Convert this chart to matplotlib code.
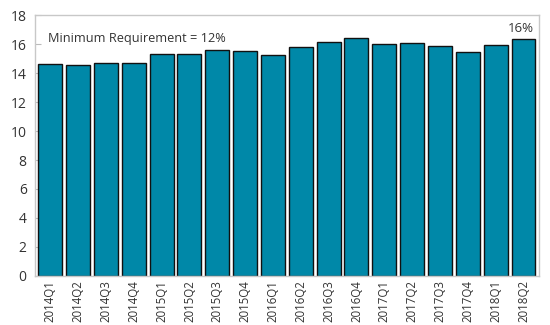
import matplotlib
matplotlib.use("Agg")
import matplotlib.pyplot as plt

quarters = ["2014Q1", "2014Q2", "2014Q3", "2014Q4",
            "2015Q1", "2015Q2", "2015Q3", "2015Q4",
            "2016Q1", "2016Q2", "2016Q3", "2016Q4",
            "2017Q1", "2017Q2", "2017Q3", "2017Q4",
            "2018Q1", "2018Q2"]
car_ratio = [14.62, 14.56, 14.71, 14.67,
             15.31, 15.31, 15.61, 15.52,
             15.26, 15.77, 16.14, 16.39,
             16.02, 16.09, 15.86, 15.47,
             15.93, 16.34]
y_ticks = [0, 2, 4, 6, 8, 10, 12, 14, 16, 18]
note_text = "Minimum Requirement = 12%"

plt.rcParams["font.family"] = ["Open Sans", "DejaVu Sans"]
text_color = "#333333"

fig = plt.figure(figsize=(5.5, 3.25), dpi=100)
ax = fig.add_axes([0.0636, 0.1508, 0.916, 0.803])

x = list(range(len(quarters)))
ax.bar(x, car_ratio, width=0.86, color="#0088A8", edgecolor="#111111",
       linewidth=1.0, zorder=2)

ax.set_xlim(-0.55, len(quarters) - 0.45)
ax.set_ylim(0, 18)
ax.set_yticks(y_ticks)
ax.set_xticks(x)
ax.set_xticklabels(quarters, rotation=90, fontsize=8.3, color=text_color)
ax.tick_params(axis="x", length=0, pad=3)
ax.tick_params(axis="y", direction="in", length=4, color="#BBBBBB",
               labelsize=10, labelcolor=text_color, pad=6)

for side in ["top", "right", "left", "bottom"]:
    ax.spines[side].set_color("#C8C8C8")
    ax.spines[side].set_linewidth(1.0)

ax.text(-0.08, 16.35, note_text, fontsize=9.2, color=text_color,
        ha="left", va="center")
last = len(car_ratio) - 1
ax.text(last - 0.1, car_ratio[last] + 0.25, f"{car_ratio[last]:.0f}%",
        fontsize=9.5, color=text_color, ha="center", va="bottom")

fig.savefig("out.png", dpi=100)
